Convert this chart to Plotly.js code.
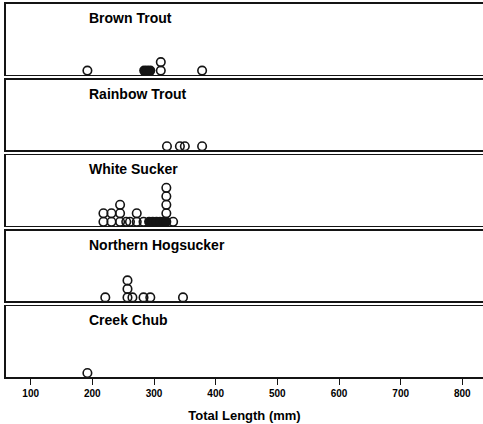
<!DOCTYPE html>
<html>
<head>
<meta charset="utf-8">
<script src="https://cdn.plot.ly/plotly-3.0.1.min.js"></script>
<style>
  html, body { margin: 0; padding: 0; background: #fff; overflow: hidden; }
  #chart { width: 483px; height: 424px; }
</style>
</head>
<body>
<div id="chart"></div>
<script>
// Species shown top to bottom
const species = ["Brown Trout", "Rainbow Trout", "White Sucker", "Northern Hogsucker", "Creek Chub"];

// Total lengths (mm) drawn as open circles, per species
const brownTroutOpen = [192, 311, 311, 378];
const rainbowTroutOpen = [321, 342, 350, 378];
const whiteSuckerOpen = [218, 218, 231, 231, 245, 245, 245, 255, 261, 272, 272, 283, 320, 320, 320, 320, 331];
const hogsuckerOpen = [221, 257, 257, 257, 265, 283, 294, 347];
const creekChubOpen = [192];

// Densely overlapping lengths (mm) that print as solid dots
const brownTroutDense = [284, 289, 294];
const rainbowTroutDense = [];
const whiteSuckerDense = [292, 298, 304, 310, 316, 320];
const hogsuckerDense = [];
const creekChubDense = [];

// Axis ticks
const tickVals = [100, 200, 300, 400, 500, 600, 700, 800];
const tickText = ["100", "200", "300", "400", "500", "600", "700", "800"];
const xTitle = "Total Length (mm)";

const openSets = [brownTroutOpen, rainbowTroutOpen, whiteSuckerOpen, hogsuckerOpen, creekChubOpen];
const denseSets = [brownTroutDense, rainbowTroutDense, whiteSuckerDense, hogsuckerDense, creekChubDense];

const FONT = "Liberation Sans, Arial, sans-serif";
const INK = "#141414";

// Stack equal values upward: dense dots sit at the base, open circles pile on top
function stackLevels(dense, open) {
  const seen = {};
  const lvl = v => { const k = seen[v] || 0; seen[v] = k + 1; return k; };
  const d = dense.map(lvl);
  const o = open.map(lvl);
  return { d, o };
}

const W = 483, H = 424;
const margin = { l: 6, r: 0, t: 4, b: 47 };
const plotH = H - margin.t - margin.b;
const gap = 5;
const panelH = (plotH - gap * (species.length - 1)) / species.length;

const traces = [];
const layout = {
  width: W, height: H,
  margin: margin,
  paper_bgcolor: "#fff",
  plot_bgcolor: "#fff",
  showlegend: false,
  font: { family: FONT, color: "#000" },
  annotations: []
};

species.forEach((name, i) => {
  const n = i + 1;
  const xa = n === 1 ? "x" : "x" + n;
  const ya = n === 1 ? "y" : "y" + n;
  const xKey = n === 1 ? "xaxis" : "xaxis" + n;
  const yKey = n === 1 ? "yaxis" : "yaxis" + n;
  const top = plotH - i * (panelH + gap);
  const bottom = top - panelH;
  const isLast = i === species.length - 1;

  const lv = stackLevels(denseSets[i], openSets[i]);

  traces.push({
    type: "scatter", mode: "markers", xaxis: xa, yaxis: ya,
    x: openSets[i], y: lv.o, cliponaxis: false, hoverinfo: "x",
    marker: { symbol: "circle-open", size: 8.5, color: INK, line: { width: 1.6, color: INK } }
  });
  traces.push({
    type: "scatter", mode: "markers", xaxis: xa, yaxis: ya,
    x: denseSets[i], y: lv.d, cliponaxis: false, hoverinfo: "x",
    marker: { symbol: "circle", size: 10, color: INK, line: { width: 0 } }
  });

  layout[xKey] = {
    domain: [0, 1],
    anchor: ya,
    range: [60, 833.5],
    showgrid: false, zeroline: false,
    showline: true, mirror: true, linecolor: INK, linewidth: 1.6,
    tickmode: "array", tickvals: tickVals, ticktext: tickText,
    showticklabels: isLast,
    ticks: isLast ? "outside" : "",
    ticklen: 6, tickwidth: 1, tickcolor: INK,
    tickfont: { family: FONT, size: 10, weight: 700, color: "#000" },
    fixedrange: true
  };
  if (n !== 1) layout[xKey].matches = "x";
  if (isLast) {
    layout[xKey].title = { text: xTitle, font: { family: FONT, size: 13, weight: 700, color: "#000" }, standoff: 13 };
  }

  layout[yKey] = {
    domain: [bottom / plotH, top / plotH],
    anchor: xa,
    range: [-0.47, panelH / 8.5 - 0.47],
    showgrid: false, zeroline: false,
    showline: true, mirror: false, linecolor: INK, linewidth: 1.6,
    showticklabels: false, ticks: "",
    fixedrange: true
  };

  layout.annotations.push({
    text: name,
    xref: "paper", x: 0.17, xanchor: "left",
    yref: ya + " domain", y: 1, yanchor: "middle", yshift: -14,
    showarrow: false,
    font: { family: FONT, size: 14, weight: 700, color: "#000" }
  });
});

Plotly.newPlot("chart", traces, layout, { displayModeBar: false, staticPlot: true });
</script>
</body>
</html>
